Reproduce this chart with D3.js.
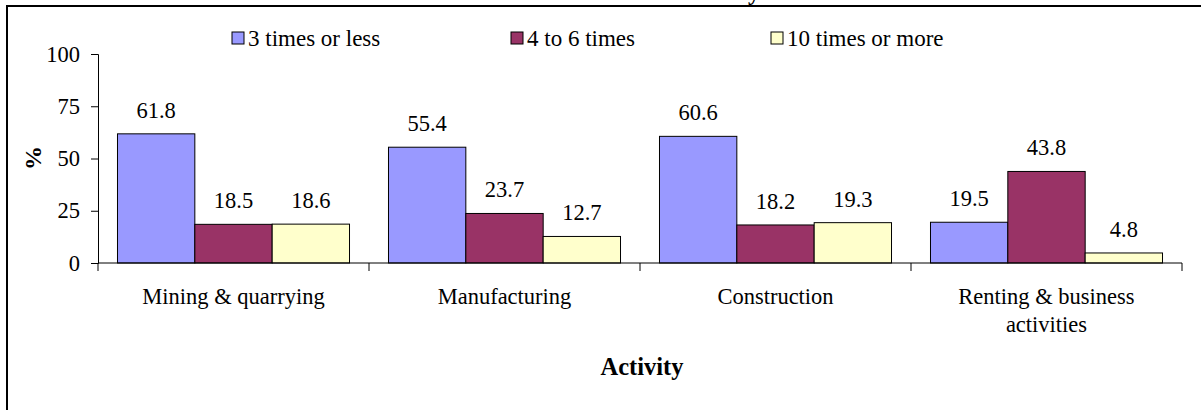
<!DOCTYPE html>
<html>
<head>
<meta charset="utf-8">
<script src="https://cdn.jsdelivr.net/npm/d3@7"></script>
<style>
  html, body { margin: 0; padding: 0; background: #fff; }
  svg { display: block; }
</style>
</head>
<body>
<svg id="chart" width="1201" height="410" font-family="Liberation Serif"></svg>
<script>
const categories = [["Mining & quarrying"], ["Manufacturing"], ["Construction"], ["Renting & business", "activities"]];
const series = ["3 times or less", "4 to 6 times", "10 times or more"];
const threeOrLess = [61.8, 55.4, 60.6, 19.5];
const fourToSix = [18.5, 23.7, 18.2, 43.8];
const tenOrMore = [18.6, 12.7, 19.3, 4.8];
const yTicks = [0, 25, 50, 75, 100];
const colors = ["#9999FF", "#993366", "#FFFFCC"];
const titleText = "Visits to firms in each Activity";
const xTitle = "Activity";
const yTitle = "%";

const FONT = "Liberation Serif";
const values = [threeOrLess, fourToSix, tenOrMore];
const catNames = categories.map(c => c.join(" "));

const svg = d3.select("#chart");

// frame (right and bottom edges lie outside the picture)
svg.append("rect").attr("x", 7).attr("y", 6).attr("width", 1400).attr("height", 600)
  .attr("fill", "none").attr("stroke", "#000").attr("stroke-width", 2);

// cropped title: only the descender shows
svg.append("text").attr("x", 760).attr("y", 0).attr("text-anchor", "end")
  .attr("font-family", FONT).attr("font-size", 24).attr("font-weight", "bold").text(titleText);

const x0 = d3.scaleBand().domain(catNames).range([98, 1182]).padding(0);
const x1 = d3.scaleBand().domain(series).range([0, x0.bandwidth()]).paddingInner(0).paddingOuter(0.252);
const y = d3.scaleLinear().domain([0, 100]).range([263, 54]);

// bars
const groups = svg.append("g").selectAll("g").data(catNames).join("g")
  .attr("transform", d => `translate(${x0(d)},0)`);

groups.each(function(cat, ci) {
  const g = d3.select(this);
  series.forEach((s, si) => {
    const v = values[si][ci];
    g.append("rect")
      .attr("x", x1(s)).attr("y", y(v))
      .attr("width", x1.bandwidth()).attr("height", y(0) - y(v))
      .attr("fill", colors[si]).attr("stroke", "#000").attr("stroke-width", 1);
    g.append("text")
      .attr("x", x1(s) + x1.bandwidth() / 2).attr("y", y(v) - 16)
      .attr("text-anchor", "middle").attr("font-family", FONT).attr("font-size", 22.5)
      .text(v.toFixed(1));
  });
});

// y axis
const yAxis = d3.axisLeft(y).tickValues(yTicks).tickSize(7).tickPadding(11).tickFormat(d3.format("d"));
const yg = svg.append("g").attr("transform", "translate(98,0)").call(yAxis);
yg.attr("font-family", FONT).attr("font-size", 22.5);
yg.select(".domain").attr("stroke", "#000");
yg.selectAll(".tick line").attr("stroke", "#000");
yg.selectAll(".tick text").attr("fill", "#000");

// x axis
const xAxis = d3.axisBottom(x0).tickSize(0).tickFormat("");
const xg = svg.append("g").attr("transform", "translate(0,263)").call(xAxis);
xg.select(".domain").attr("stroke", "#000").attr("d", "M98,0H1182");
const tickPos = catNames.map(c => x0(c)).concat([x0.range()[1]]);
xg.selectAll(".sep").data(tickPos).join("line").attr("class", "sep")
  .attr("x1", d => d).attr("x2", d => d).attr("y1", 0).attr("y2", 8).attr("stroke", "#000");

// category labels
categories.forEach((lines, ci) => {
  const cx = x0(catNames[ci]) + x0.bandwidth() / 2;
  const t = svg.append("text").attr("text-anchor", "middle")
    .attr("font-family", FONT).attr("font-size", 22.5)
    .attr("x", cx).attr("y", 304);
  lines.forEach((ln, li) => {
    t.append("tspan").attr("x", cx).attr("dy", li === 0 ? 0 : 28).text(ln);
  });
});

// axis titles
svg.append("text").attr("x", 642).attr("y", 375).attr("text-anchor", "middle")
  .attr("font-family", FONT).attr("font-size", 24.5).attr("font-weight", "bold").text(xTitle);
svg.append("text").attr("transform", "translate(41,158) rotate(-90)").attr("text-anchor", "middle")
  .attr("font-family", FONT).attr("font-size", 24).attr("font-weight", "bold").text(yTitle);

// legend
const legendX = [232, 511, 771];
series.forEach((s, i) => {
  svg.append("rect").attr("x", legendX[i]).attr("y", 32).attr("width", 12).attr("height", 12)
    .attr("fill", colors[i]).attr("stroke", "#000").attr("stroke-width", 1);
  svg.append("text").attr("x", legendX[i] + 16).attr("y", 46)
    .attr("font-family", FONT).attr("font-size", 23).text(s);
});
</script>
</body>
</html>
